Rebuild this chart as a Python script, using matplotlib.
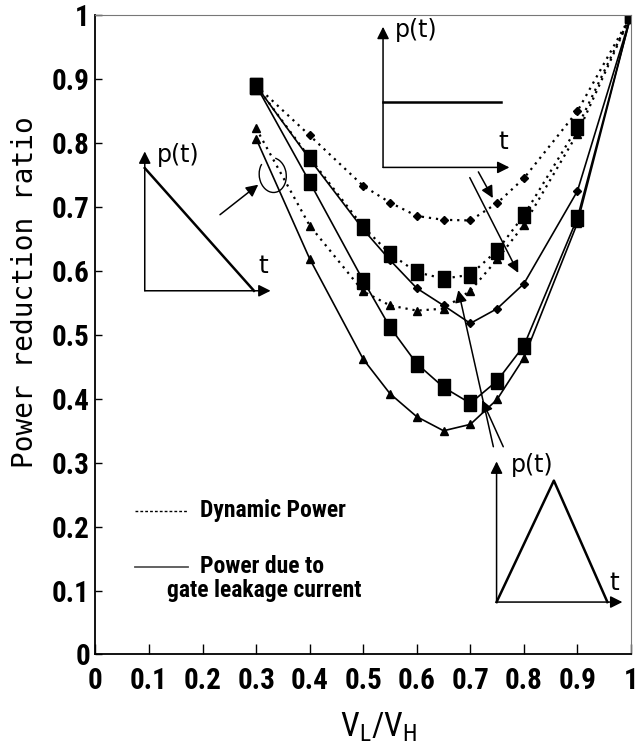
import matplotlib
matplotlib.use('Agg')
import matplotlib.pyplot as plt
from matplotlib import font_manager
from matplotlib.patches import Arc

# V_L/V_H sample points
vl_vh = [0.3, 0.4, 0.5, 0.55, 0.6, 0.65, 0.7, 0.75, 0.8, 0.9, 1.0]

# dynamic power (dotted)
dyn_const = [0.89, 0.812, 0.733, 0.707, 0.686, 0.680, 0.679, 0.706, 0.745, 0.850, 1.0]
dyn_tri = [0.89, 0.777, 0.669, 0.627, 0.598, 0.588, 0.594, 0.632, 0.687, 0.825, 1.0]
dyn_ramp = [0.823, 0.671, 0.568, 0.546, 0.538, 0.541, 0.569, 0.618, 0.672, 0.815, 1.0]

# power due to gate leakage current (solid)
leak_const = [0.89, 0.775, 0.665, 0.617, 0.573, 0.546, 0.518, 0.541, 0.580, 0.725, 1.0]
leak_tri = [0.89, 0.739, 0.585, 0.512, 0.455, 0.418, 0.393, 0.428, 0.483, 0.683, 1.0]
leak_ramp = [0.807, 0.619, 0.462, 0.408, 0.372, 0.350, 0.360, 0.399, 0.464, 0.675, 1.0]

x_ticks = [0, 0.1, 0.2, 0.3, 0.4, 0.5, 0.6, 0.7, 0.8, 0.9, 1]
x_labels = ['0', '0.1', '0.2', '0.3', '0.4', '0.5', '0.6', '0.7', '0.8', '0.9', '1']
y_ticks = [0, 0.1, 0.2, 0.3, 0.4, 0.5, 0.6, 0.7, 0.8, 0.9, 1]
y_labels = ['0', '0.1', '0.2', '0.3', '0.4', '0.5', '0.6', '0.7', '0.8', '0.9', '1']


def pick_narrow():
    names = {f.name for f in font_manager.fontManager.ttflist}
    for n in ['Liberation Sans Narrow', 'Roboto Condensed', 'Open Sans Condensed']:
        if n in names:
            return n, 'normal'
    for f in font_manager.fontManager.ttflist:
        if f.name == 'DejaVu Sans' and f.stretch == 'condensed':
            return 'DejaVu Sans', 'condensed'
    return 'DejaVu Sans', 'normal'


narrow, stretch = pick_narrow()
plt.rcParams['font.family'] = [narrow, 'DejaVu Sans']
plt.rcParams['mathtext.fontset'] = 'custom'
plt.rcParams['mathtext.rm'] = narrow

fig = plt.figure(figsize=(6.43, 7.49), dpi=100)
ax = fig.add_axes([0.1485, 0.1262, 0.8328, 0.8534])

sq = [(-0.38, -0.5), (0.38, -0.5), (0.38, 0.5), (-0.38, 0.5), (-0.38, -0.5)]
dot = (0, (1, 2.2))

ax.plot(vl_vh, dyn_const, color='k', lw=1.6, ls=dot, marker='D', ms=4.5)
ax.plot(vl_vh, dyn_ramp, color='k', lw=1.6, ls=dot, marker='^', ms=5.5)
ax.plot(vl_vh, dyn_tri, color='k', lw=1.6, ls=dot, marker=sq, ms=11)
ax.plot(vl_vh, leak_const, color='k', lw=1.2, marker='D', ms=4.5)
ax.plot(vl_vh, leak_ramp, color='k', lw=1.2, marker='^', ms=5.5)
ax.plot(vl_vh, leak_tri, color='k', lw=1.2, marker=sq, ms=11)

ax.set_xlim(0, 1)
ax.set_ylim(0, 1)
ax.set_xticks(x_ticks)
ax.set_xticklabels(x_labels)
ax.set_yticks(y_ticks)
ax.set_yticklabels(y_labels)
ax.tick_params(axis='x', direction='in', length=7, width=1, pad=9, labelsize=21)
ax.tick_params(axis='y', direction='in', length=5, width=1, pad=4, labelsize=21)
for lab in ax.get_xticklabels() + ax.get_yticklabels():
    lab.set_fontstretch(stretch)
    lab.set_fontweight('bold')
for side in ['top', 'right']:
    ax.spines[side].set_color('#777777')
for side in ['left', 'bottom']:
    ax.spines[side].set_linewidth(1.3)

fig.text(0.588, 0.029, r'$\mathregular{V_L/V_H}$', fontsize=24, ha='center', va='center')
fig.text(0.039, 0.61, 'Power reduction ratio', rotation=90, ha='center', va='center',
         fontsize=20, family='DejaVu Sans Mono')

arr = dict(arrowstyle='-|>', color='k', lw=1.1, mutation_scale=18, shrinkA=0, shrinkB=0)
ins = dict(color='k', lw=1.8)


def inset_axes_arrows(x0, y0, x1, y1):
    ax.annotate('', xy=(x0, y1), xytext=(x0, y0), arrowprops=arr)
    ax.annotate('', xy=(x1, y0), xytext=(x0, y0), arrowprops=arr)


# ramp inset
inset_axes_arrows(0.092, 0.569, 0.327, 0.787)
ax.plot([0.092, 0.296], [0.761, 0.569], **ins)
ax.text(0.115, 0.782, 'p(t)', fontsize=17, family='DejaVu Sans', va='center')
ax.text(0.305, 0.607, 't', fontsize=18, family='DejaVu Sans', va='center')
ax.annotate('', xy=(0.304, 0.735), xytext=(0.2325, 0.688), arrowprops=arr)
ax.add_patch(Arc((0.331, 0.75), 0.05, 0.055, angle=20, theta1=120, theta2=420, lw=1, color='k'))

# constant inset
inset_axes_arrows(0.537, 0.762, 0.773, 0.982)
ax.plot([0.537, 0.757], [0.865, 0.865], **ins)
ax.text(0.56, 0.977, 'p(t)', fontsize=17, family='DejaVu Sans', va='center')
ax.text(0.752, 0.802, 't', fontsize=18, family='DejaVu Sans', va='center')
ax.annotate('', xy=(0.742, 0.714), xytext=(0.715, 0.755), arrowprops=arr)
ax.annotate('', xy=(0.7895, 0.597), xytext=(0.699, 0.746), arrowprops=arr)

# triangle inset
inset_axes_arrows(0.749, 0.082, 0.984, 0.302)
ax.plot([0.749, 0.856, 0.956], [0.082, 0.272, 0.082], **ins)
ax.text(0.775, 0.297, 'p(t)', fontsize=17, family='DejaVu Sans', va='center')
ax.text(0.96, 0.112, 't', fontsize=18, family='DejaVu Sans', va='center')
ax.annotate('', xy=(0.6775, 0.570), xytext=(0.743, 0.325), arrowprops=arr)
ax.annotate('', xy=(0.722, 0.398), xytext=(0.7615, 0.325), arrowprops=arr)

# legend drawn by hand
ax.plot([0.074, 0.173], [0.2246, 0.2246], color='k', lw=1, ls=(0, (2, 1.5)))
ax.plot([0.074, 0.173], [0.137, 0.137], color='#555555', lw=1.3)
ax.text(0.195, 0.2246, 'Dynamic Power', fontsize=17, fontweight='bold', fontstretch=stretch, va='center')
ax.text(0.195, 0.137, 'Power due to', fontsize=17, fontweight='bold', fontstretch=stretch, va='center')
ax.text(0.134, 0.1, 'gate leakage current', fontsize=17, fontweight='bold', fontstretch=stretch, va='center')

fig.savefig('out.png', dpi=100)
